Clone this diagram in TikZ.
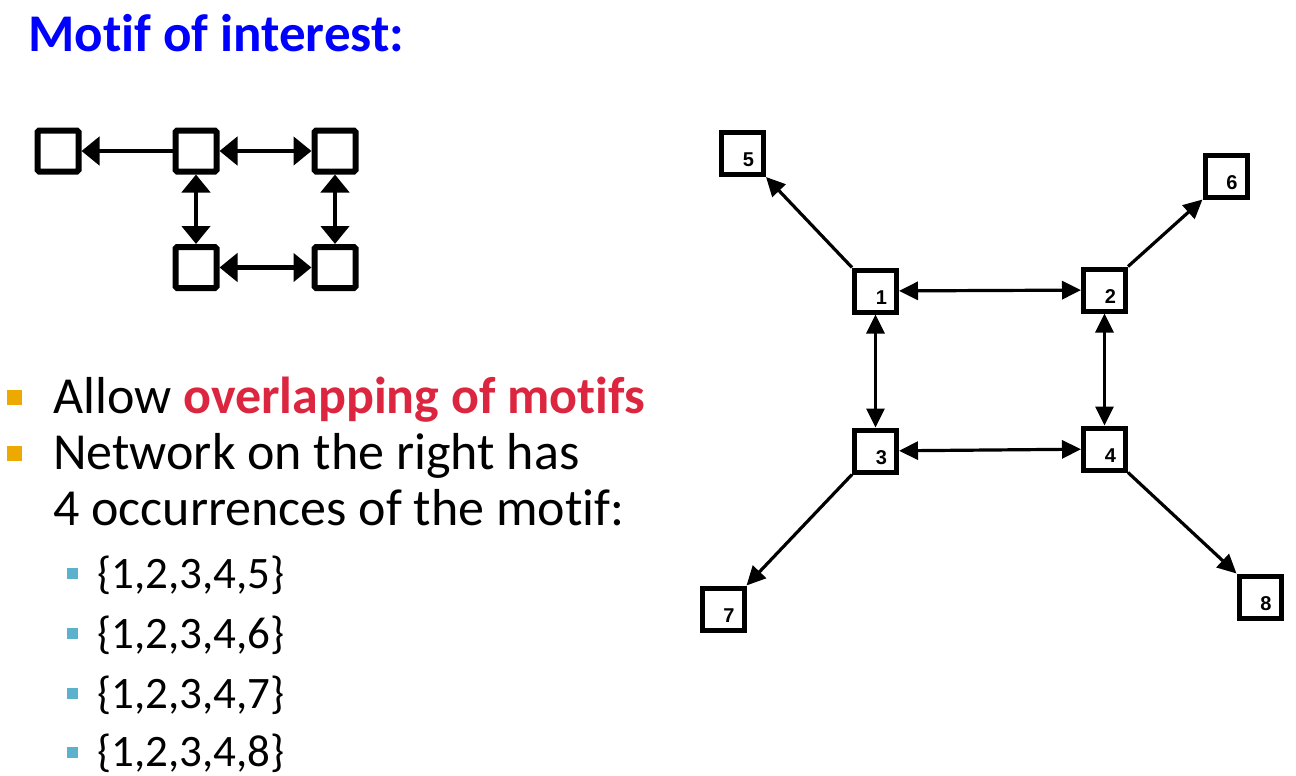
\documentclass[tikz,border=0pt]{standalone}
\usepackage{fontspec}
\setmainfont{Carlito}[Ligatures=NoCommon]
\newfontfamily\arialfont{Liberation Sans}
\usetikzlibrary{arrows.meta}
\definecolor{titleblue}{RGB}{0,0,255}
\definecolor{hred}{RGB}{220,38,64}
\definecolor{orangeb}{RGB}{236,170,0}
\definecolor{tealb}{RGB}{92,178,204}
\begin{document}
\begin{tikzpicture}[x=1pt,y=-1pt,
  mbox/.style={draw, line width=6pt, minimum size=41pt, inner sep=0pt, rounded corners=1.5pt},
  marr/.style={line width=4.5pt, -{Triangle[length=18pt,width=28pt]}},
  mdarr/.style={line width=4.5pt, {Triangle[length=18pt,width=28pt]}-{Triangle[length=18pt,width=28pt]}},
  nbox/.style={draw, line width=5pt, minimum size=42pt, inner sep=0pt,
    label={[font=\arialfont\bfseries\fontsize{20}{20}\selectfont, anchor=center, inner sep=0pt, xshift=6pt, yshift=-6.5pt]center:#1}},
  narr/.style={line width=3.2pt, -{Triangle[length=19pt,width=18pt]}},
  ndarr/.style={line width=3.2pt, {Triangle[length=19pt,width=18pt]}-{Triangle[length=19pt,width=18pt]}},
  txt/.style={anchor=base west, inner sep=0pt, font=\fontsize{52}{60}\selectfont},
  subtxt/.style={anchor=base west, inner sep=0pt, font=\fontsize{45}{52}\selectfont},
  bulA/.style={fill=orangeb, draw=none, minimum size=15pt, inner sep=0pt},
  bulB/.style={fill=tealb, draw=none, minimum size=11pt, inner sep=0pt}
]
\useasboundingbox (0,0) rectangle (1296,776);
\fill[white] (0,0) rectangle (1296,776);

% title
\node[anchor=base west, inner sep=0pt, font=\bfseries\fontsize{53}{60}\selectfont, text=titleblue] (title) at (28,52) {Motif of interest:};

% motif
\node[mbox] (ma) at (58,151) {};
\node[mbox] (mb) at (196,151) {};
\node[mbox] (mc) at (335,151) {};
\node[mbox] (md) at (196,267.5) {};
\node[mbox] (me) at (335,267.5) {};
\draw[marr] (mb) -- (ma);
\draw[mdarr] (mb) -- (mc);
\draw[mdarr] (mb) -- (md);
\draw[mdarr] (mc) -- (me);
\draw[mdarr] (md) -- (me);

% bullets
\node[bulA] (b1) at (14.5,397.5) {};
\node[bulA] (b2) at (14.5,453.5) {};
\node[txt] (t1) at (53,413) {Allow {\bfseries\color{hred}overlapping of motifs}};
\node[txt] (t2) at (53,469) {Network on the right has};
\node[txt] (t3) at (53,525) {4 occurrences of the motif:};
\node[bulB] (s1b) at (72.5,573) {};
\node[bulB] (s2b) at (72.5,633) {};
\node[bulB] (s3b) at (72.5,693) {};
\node[bulB] (s4b) at (72.5,752) {};
\node[subtxt] (s1) at (97,588) {\{1,2,3,4,5\}};
\node[subtxt] (s2) at (97,648) {\{1,2,3,4,6\}};
\node[subtxt] (s3) at (97,708) {\{1,2,3,4,7\}};
\node[subtxt] (s4) at (97,766) {\{1,2,3,4,8\}};

% network
\node[nbox=1] (n1) at (875.5,291) {};
\node[nbox=2] (n2) at (1104.5,290) {};
\node[nbox=3] (n3) at (875.5,451) {};
\node[nbox=4] (n4) at (1104.5,449) {};
\node[nbox=5] (n5) at (742.5,153.5) {};
\node[nbox=6] (n6) at (1226,176) {};
\node[nbox=7] (n7) at (723,609) {};
\node[nbox=8] (n8) at (1260,597) {};
\draw[ndarr] (n1) -- (n2);
\draw[ndarr] (n1) -- (n3);
\draw[ndarr] (n2) -- (n4);
\draw[ndarr] (n3) -- (n4);
\draw[narr] (n1.north west) -- (n5.south east);
\draw[narr] (n2.north east) -- (n6.south west);
\draw[narr] (n3.south west) -- (n7.north east);
\draw[narr] (n4.south east) -- (n8.north west);
\end{tikzpicture}
\end{document}
